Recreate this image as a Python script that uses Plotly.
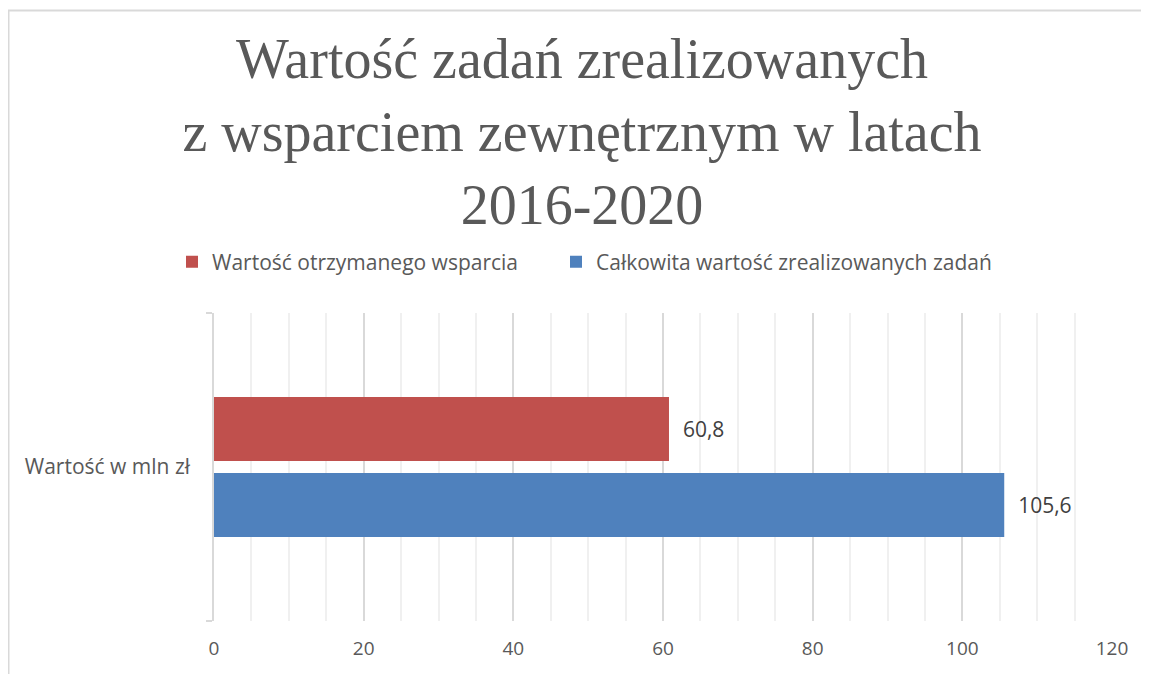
import plotly.graph_objects as go

categories = ["Wartość w mln zł"]
series_names = ["Wartość otrzymanego wsparcia", "Całkowita wartość zrealizowanych zadań"]
support_values = [60.8]
total_values = [105.6]
series_colors = ["#C0504D", "#4F81BD"]
x_ticks = [0, 20, 40, 60, 80, 100, 120]
title_text = "Wartość zadań zrealizowanych<br>z wsparciem zewnętrznym w latach<br>2016-2020"

# page body adds an 8px offset, so the figure is laid out in shifted pixels
OFF = 8
W, H = 1149 - OFF, 674 - OFF
L, R, T, B = 214 - OFF, 37, 313 - OFF, 53
pw, ph = W - L - R, H - T - B

def px_to_paper_x(px):
    return (px - OFF - L) / pw

def px_to_paper_y(py):
    return (H - B - (py - OFF)) / ph

font_sans = "Open Sans"
grey = "#595959"
NBSP = "\u00a0"

fig = go.Figure()
for name, vals, col, lg in [(series_names[0], support_values, series_colors[0], "legend"),
                            (series_names[1], total_values, series_colors[1], "legend2")]:
    fig.add_trace(go.Bar(
        y=categories, x=vals, name=name, orientation="h", legend=lg,
        marker=dict(color=col, line=dict(width=0)),
        text=vals, texttemplate=NBSP * 2 + "%{x:.1f}", textposition="outside",
        textfont=dict(family=font_sans, size=21, color="#404040"),
        cliponaxis=False,
    ))

legend_common = dict(orientation="h", xref="paper", xanchor="left",
                     yref="paper", yanchor="middle", y=px_to_paper_y(262),
                     font=dict(family=font_sans, size=21, color=grey),
                     bgcolor="rgba(0,0,0,0)")

fig.update_layout(
    width=W, height=H,
    margin=dict(l=L, r=R, t=T, b=B, autoexpand=False),
    paper_bgcolor="white", plot_bgcolor="white",
    separators=", ",
    barmode="group", bargap=0.506, bargroupgap=0.158,
    title=dict(text=title_text, x=(582 - OFF) / W, xref="container", xanchor="center",
               y=1 - 70 / H, yref="container", yanchor="middle",
               font=dict(family="Liberation Serif", size=56, color=grey)),
    legend=dict(x=px_to_paper_x(172), **legend_common),
    legend2=dict(x=px_to_paper_x(556), **legend_common),
    showlegend=True,
)

fig.update_xaxes(
    range=[0, 120], tickvals=x_ticks, ticktext=[str(t) for t in x_ticks],
    showgrid=True, gridcolor="#d9d9d9", gridwidth=1.5,
    minor=dict(dtick=5, tick0=0, showgrid=True, gridcolor="#f0f0f0", gridwidth=1.5),
    zeroline=False, showline=False, ticks="", tickangle=0, automargin=False,
    tickfont=dict(family=font_sans, size=19, color=grey),
    ticklabelstandoff=14,
)
fig.update_yaxes(
    autorange="reversed", showgrid=False, zeroline=False, automargin=False,
    showline=True, linecolor="#d9d9d9", linewidth=1.5,
    ticks="outside", ticklen=6, tickcolor="#d9d9d9", tickwidth=1.5, tickson="boundaries",
    tickfont=dict(family=font_sans, size=21, color=grey),
    ticklabelstandoff=18,
)

# chart border (top and left edges visible in the frame)
border = dict(color="#d9d9d9", width=2)
fig.add_shape(type="line", xref="paper", yref="paper",
              x0=px_to_paper_x(7.5), x1=px_to_paper_x(1149 + 20),
              y0=px_to_paper_y(10.5), y1=px_to_paper_y(10.5), line=border, layer="below")
fig.add_shape(type="line", xref="paper", yref="paper",
              x0=px_to_paper_x(8.5), x1=px_to_paper_x(8.5),
              y0=px_to_paper_y(10.5), y1=px_to_paper_y(674 + 20), line=border, layer="below")

fig.write_html("out.html")
